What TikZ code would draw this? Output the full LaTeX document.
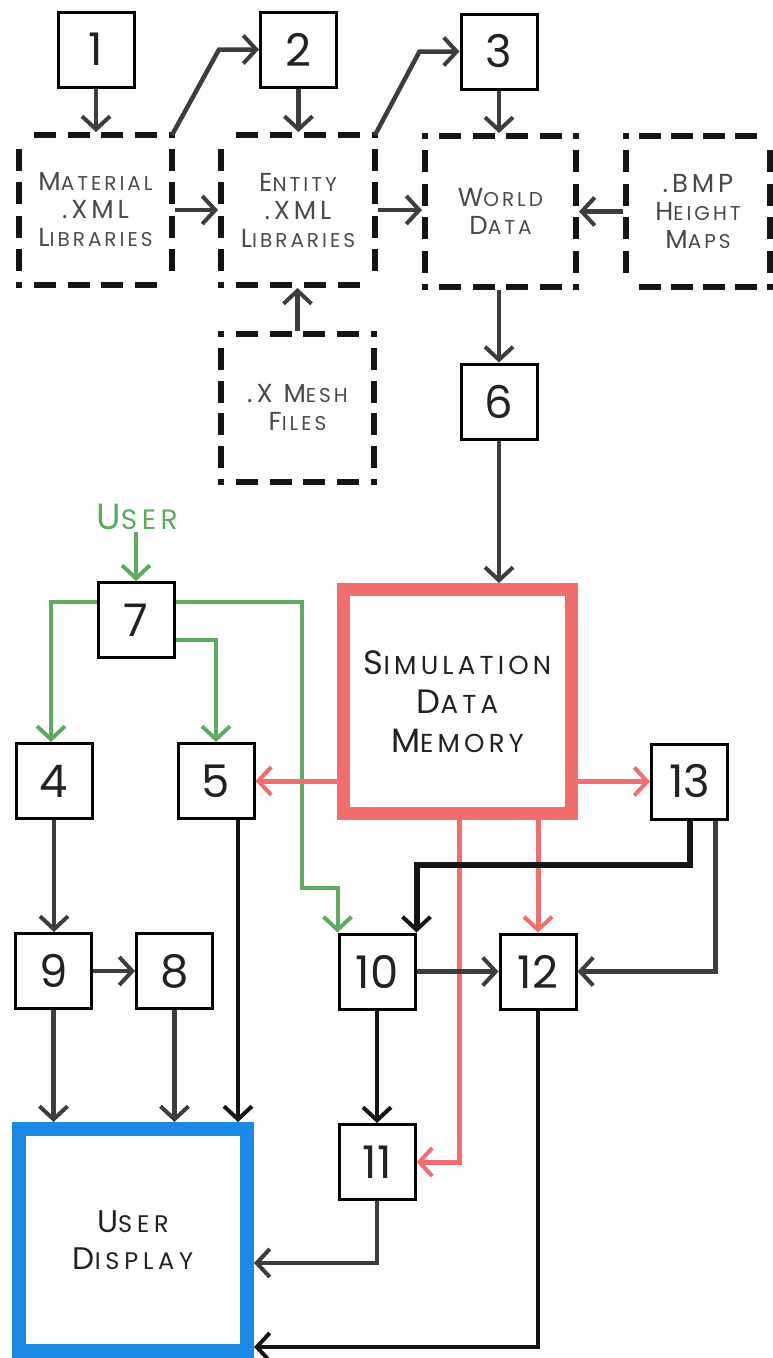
\documentclass[tikz,border=0pt]{standalone}
\usepackage{fontspec}
\setmainfont{Poppins}
\newfontfamily\lblfont{Poppins}
\usetikzlibrary{arrows.meta,decorations}
\definecolor{lnc}{HTML}{3D3D3D}
\definecolor{blk}{HTML}{151515}
\definecolor{grn}{HTML}{5DAA60}
\definecolor{rd}{HTML}{F26D6D}
\definecolor{bl}{HTML}{1E88E5}
\definecolor{txt}{HTML}{222222}
\definecolor{lbl}{HTML}{4A4A4A}
\makeatletter
\newcommand\SCp[2]{{\fontsize{\the\dimexpr\f@size pt*13/10\relax}{\f@baselineskip}\selectfont #1}#2}
\makeatother
\tikzset{
  numbox/.style={draw=black, line width=3pt, minimum width=76pt, minimum height=75pt, inner sep=0pt, text=txt, font=\fontsize{45}{45}\selectfont},
  dbox/.style={inner sep=0pt, outer sep=0pt, align=center, text=lbl, font=\lblfont\addfontfeature{LetterSpace=15}\fontsize{20}{28}\selectfont},
  dside/.style={line width=6pt, dash pattern=on 16pt off 14pt, dash expand off, line cap=rect, draw=blk},
  tipbarb/.style={-{Straight Barb[length=13pt, width=28pt, line width=4pt]}},
  arr/.style={line width=4.5pt, draw=lnc, tipbarb},
  karr/.style={line width=4.5pt, draw=blk, tipbarb},
  garr/.style={line width=4pt, draw=grn, tipbarb},
  rarr/.style={line width=5pt, draw=rd, tipbarb},
}
\newcommand\myDashedFrame[1]{%
  \draw[dside] (#1.north west) -- (#1.north east);
  \draw[dside] (#1.north east) -- (#1.south east);
  \draw[dside] (#1.south east) -- (#1.south west);
  \draw[dside] (#1.south west) -- (#1.north west);}
\begin{document}
\begin{tikzpicture}[x=1pt, y=-1pt]
\useasboundingbox[fill=white] (0,0) rectangle (772,1358);
% number boxes
\node[numbox] (n1) at (96,49.5) {1};
\node[numbox] (n2) at (298.5,49.5) {2};
\node[numbox] (n3) at (499,51.5) {3};
\node[numbox] (n6) at (499,401.5) {6};
\node[numbox] (n7) at (136,620) {7};
\node[numbox] (n4) at (54,781) {4};
\node[numbox] (n5) at (216,781) {5};
\node[numbox] (n13) at (689.5,781.5) {13};
\node[numbox] (n9) at (53.5,971) {9};
\node[numbox] (n8) at (174.5,971) {8};
\node[numbox] (n10) at (377,971.5) {10};
\node[numbox] (n12) at (538,971.5) {12};
\node[numbox] (n11) at (377,1162) {11};
% dashed boxes
\node[dbox, minimum width=153pt, minimum height=150pt] (mat) at (95.5,210) {\SCp{M}{ATERIAL}\\\SCp{.XML}{}\\\SCp{L}{IBRARIES}};
\node[dbox, minimum width=154pt, minimum height=150pt] (ent) at (298,210) {\SCp{E}{NTITY}\\\SCp{.XML}{}\\\SCp{L}{IBRARIES}};
\node[dbox, minimum width=151pt, minimum height=151pt] (wor) at (500.5,211.5) {\SCp{W}{ORLD}\\\SCp{D}{ATA}};
\node[dbox, minimum width=144pt, minimum height=151pt] (bmp) at (698,211.5) {\SCp{.BMP}{}\\\SCp{H}{EIGHT}\\\SCp{M}{APS}};
\node[dbox, minimum width=153pt, minimum height=148pt] (mesh) at (297.5,408) {\SCp{.X M}{ESH}\\\SCp{F}{ILES}};
\myDashedFrame{mat}\myDashedFrame{ent}\myDashedFrame{wor}\myDashedFrame{bmp}\myDashedFrame{mesh}
% big boxes
\node[draw=rd, line width=13pt, minimum width=228pt, minimum height=224pt, inner sep=0pt, align=center, text=txt, font=\lblfont\addfontfeature{LetterSpace=16}\fontsize{26}{39}\selectfont] (sim) at (457.5,701.5) {\SCp{S}{IMULATION}\\\SCp{D}{ATA}\\\SCp{M}{EMORY}};
\node[draw=bl, line width=14pt, minimum width=228pt, minimum height=222pt, inner sep=0pt, align=center, text=txt, font=\lblfont\addfontfeature{LetterSpace=20}\fontsize{24}{37}\selectfont] (ud) at (133,1240) {\SCp{U}{SER}\\\SCp{D}{ISPLAY}};
\node[text=grn, inner sep=2pt, font=\lblfont\addfontfeature{LetterSpace=16}\fontsize{28}{30}\selectfont] (user) at (137,517) {\SCp{U}{SER}};
% top connectors
\draw[arr, shorten >=3pt] (n1.south) -- (n1.south |- mat.north);
\draw[arr, shorten >=3pt] (n2.south) -- (n2.south |- ent.north);
\draw[arr, shorten >=3pt] (n3.south) -- (n3.south |- wor.north);
\draw[arr, shorten <=3pt, shorten >=3pt] (mat.east) -- (ent.west);
\draw[arr, shorten <=3pt, shorten >=3pt] (ent.east) -- (ent.east -| wor.west);
\draw[arr, shorten <=3pt, shorten >=3pt] (bmp.west) -- (bmp.west -| wor.east);
\draw[arr] (mat.north east) -- ([xshift=-40pt]n2.west) -- (n2.west);
\draw[arr] (ent.north east) -- ([xshift=-40pt]n3.west) -- (n3.west);
\draw[arr, shorten <=3pt, shorten >=3pt] (mesh.north) -- (mesh.north |- ent.south);
\draw[arr, shorten <=3pt] (wor.south -| n6.north) -- (n6.north);
\draw[arr] (n6.south) -- (n6.south |- sim.north);
% green
\draw[garr] ([xshift=-1pt]user.south) -- ([xshift=-1pt]user.south |- n7.north);
\draw[garr] ([yshift=18pt]n7.west) -| ([xshift=-3pt]n4.north);
\draw[garr] ([yshift=-20pt]n7.east) -| (n5.north);
\draw[garr] ([yshift=18pt]n7.east) -- ++(126.5,0) |- ([yshift=45pt]n10.north west) -- (n10.north west);
% red
\draw[rarr] (n5.east -| sim.west) -- (n5.east);
\draw[rarr] (n13.west -| sim.east) -- (n13.west);
\draw[rarr] ([xshift=1.5pt]sim.south) |- (n11.east);
\draw[rarr] (n12.north |- sim.south) -- (n12.north);
% black / grey
\draw[karr, line width=6pt] (n13.south) -- ++(0,44) -| (n10.north east);
\draw[arr] ([xshift=26pt]n13.south) |- (n12.east);
\draw[arr] (n10.east) -- (n12.west);
\draw[karr] (n10.south) -- (n11.north);
\draw[arr] (n4.south) -- (n4.south |- n9.north);
\draw[arr] (n9.east) -- (n8.west);
\draw[arr] (n9.south) -- (n9.south |- ud.north);
\draw[arr] (n8.south) -- (n8.south |- ud.north);
\draw[karr] ([xshift=22pt]n5.south) -- ([xshift=22pt]n5.south |- ud.north);
\draw[arr] (n11.south) |- ([yshift=-23pt]ud.east);
\draw[karr] (n12.south) |- ([yshift=-107pt]ud.east);
\end{tikzpicture}
\end{document}
